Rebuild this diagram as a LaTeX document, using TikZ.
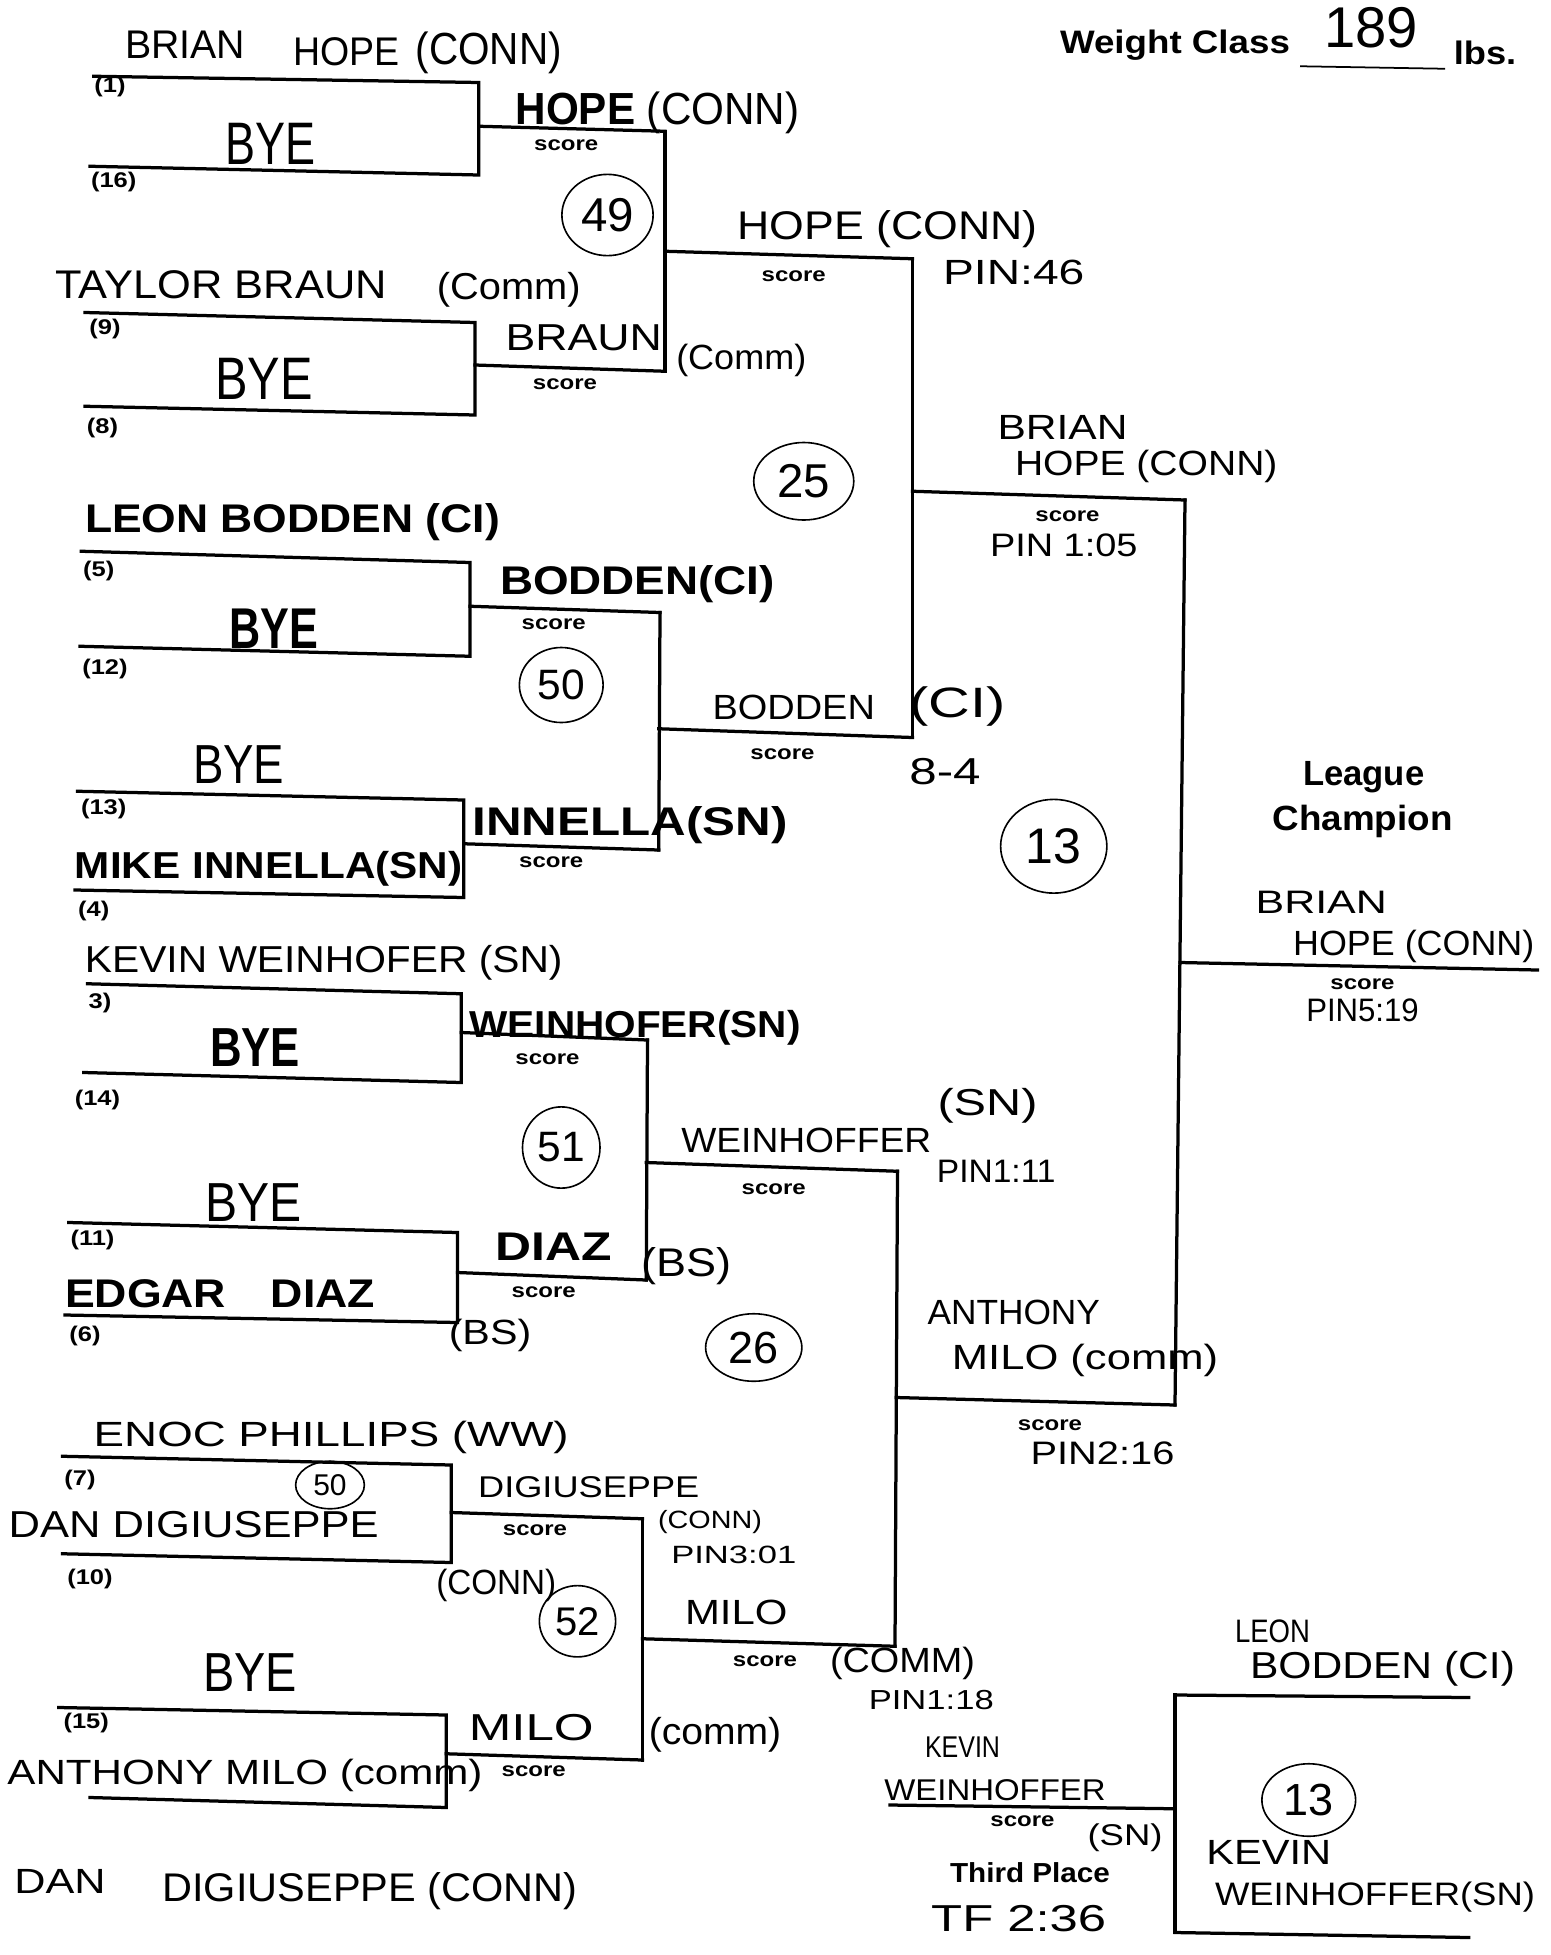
\documentclass[tikz,border=0pt]{standalone}
\usepackage{fontspec}
\usetikzlibrary{shapes.geometric}
\setmainfont{Liberation Sans}
\newfontfamily\hand{Liberation Sans}
\newfontfamily\prt[FakeStretch=1.2]{Liberation Sans}
\newcommand\fitw[2]{\resizebox{#1pt}{\height}{#2}}
\begin{document}
\begin{tikzpicture}[x=1pt,y=-1pt,
  br/.style={line width=2.6pt, line cap=rect},
  sc/.style={font=\prt\bfseries\fontsize{16}{16}\selectfont, inner sep=0},
  sd/.style={font=\prt\bfseries\fontsize{17}{17}\selectfont, inner sep=0},
  pl/.style={font=\bfseries\fontsize{#1}{#1}\selectfont, inner sep=0},
  hw/.style={font=\hand\fontsize{#1}{#1}\selectfont, inner sep=0},
  hw/.default=28,
  circ/.style={draw, ellipse, line width=1.3pt, inner sep=0pt, font=\hand\fontsize{#1}{#1}\selectfont}]
\fill[white] (0,0) rectangle (1240,1564);
\useasboundingbox (0,0) rectangle (1240,1564);

% ---------------- bracket coordinates ----------------
% A (1 vs 16)
\coordinate (a1) at (75,61);  \coordinate (a2) at (383,66);
\coordinate (a3) at (72,133); \coordinate (a4) at (383,140);
\coordinate (aw1) at (383,101); \coordinate (aw2) at (532,105);
% B (9 vs 8)
\coordinate (b1) at (68,250);  \coordinate (b2) at (380,258);
\coordinate (b3) at (68,325);  \coordinate (b4) at (380,332);
\coordinate (bw1) at (380,292); \coordinate (bw2) at (532,297);
% round 2 AB
\coordinate (ab1) at (532,201); \coordinate (ab2) at (730,207);
% C (5 vs 12)
\coordinate (c1) at (65,441);  \coordinate (c2) at (376,450);
\coordinate (c3) at (64,517);  \coordinate (c4) at (376,525);
\coordinate (cw1) at (376,485); \coordinate (cw2) at (528,490);
% D (13 vs 4)
\coordinate (d1) at (62,633);  \coordinate (d2) at (371,640);
\coordinate (d3) at (60,712);  \coordinate (d4) at (371,718);
\coordinate (dw1) at (371,675); \coordinate (dw2) at (527,680);
% round 2 CD
\coordinate (cd1) at (527,583); \coordinate (cd2) at (730,590);
% round 3 top
\coordinate (t1) at (730,393); \coordinate (t2) at (948,400);
% E (3 vs 14)
\coordinate (e1) at (70,787);  \coordinate (e2) at (369,795);
\coordinate (e3) at (67,858);  \coordinate (e4) at (369,866);
\coordinate (ew1) at (369,826); \coordinate (ew2) at (518,832);
% F (11 vs 6)
\coordinate (f1) at (55,978);  \coordinate (f2) at (366,986);
\coordinate (f3) at (52,1052); \coordinate (f4) at (366,1058);
\coordinate (fw1) at (366,1018); \coordinate (fw2) at (517,1024);
% round 2 EF
\coordinate (ef1) at (517,930); \coordinate (ef2) at (718,937);
% G (7 vs 10)
\coordinate (g1) at (50,1165); \coordinate (g2) at (361,1172);
\coordinate (g3) at (50,1243); \coordinate (g4) at (361,1250);
\coordinate (gw1) at (361,1210); \coordinate (gw2) at (514,1215);
% H (15 vs 2)
\coordinate (h1) at (47,1366); \coordinate (h2) at (357,1372);
\coordinate (h3) at (72,1438); \coordinate (h4) at (357,1446);
\coordinate (hw1) at (357,1403); \coordinate (hw2) at (514,1408);
% round 2 GH
\coordinate (gh1) at (514,1311); \coordinate (gh2) at (716,1317);
% round 3 bottom
\coordinate (u1) at (717,1118); \coordinate (u2) at (940,1124);
% final
\coordinate (ch1) at (944,770); \coordinate (ch2) at (1230,776);
% third place
\coordinate (tp1) at (712,1444); \coordinate (tp2) at (940,1447);
\coordinate (tp3) at (940,1356); \coordinate (tp4) at (1175,1358);
\coordinate (tp5) at (940,1546); \coordinate (tp6) at (1175,1550);

% ---------------- bracket lines ----------------
\draw[br] (a1)--(a2)--(a4)--(a3);
\draw[br] (aw1)--(aw2);
\draw[br] (b1)--(b2)--(b4)--(b3);
\draw[br] (bw1)--(bw2);
\draw[br] (aw2)--(bw2);
\draw[br] (ab1)--(ab2);
\draw[br] (c1)--(c2)--(c4)--(c3);
\draw[br] (cw1)--(cw2);
\draw[br] (d1)--(d2)--(d4)--(d3);
\draw[br] (dw1)--(dw2);
\draw[br] (cw2)--(dw2);
\draw[br] (cd1)--(cd2);
\draw[br] (ab2)--(cd2);
\draw[br] (t1)--(t2);
\draw[br] (e1)--(e2)--(e4)--(e3);
\draw[br] (ew1)--(ew2);
\draw[br] (f1)--(f2)--(f4)--(f3);
\draw[br] (fw1)--(fw2);
\draw[br] (ew2)--(fw2);
\draw[br] (ef1)--(ef2);
\draw[br] (g1)--(g2)--(g4)--(g3);
\draw[br] (gw1)--(gw2);
\draw[br] (h1)--(h2)--(h4)--(h3);
\draw[br] (hw1)--(hw2);
\draw[br] (gw2)--(hw2);
\draw[br] (gh1)--(gh2);
\draw[br] (ef2)--(gh2);
\draw[br] (u1)--(u2);
\draw[br] (t2)--(u2);
\draw[br] (ch1)--(ch2);
\draw[br] (tp1)--(tp2);
\draw[br] (tp3)--(tp5);
\draw[br] (tp3)--(tp4);
\draw[br] (tp5)--(tp6);

% ---------------- printed labels ----------------
\node[pl=26] (wc) at (940,36) {\fitw{184}{Weight Class}};
\coordinate (ul1) at (1040,53); \coordinate (ul2) at (1156,55);
\draw[line width=1.4pt] (ul1)--(ul2);
\node[pl=26] (lbs) at (1188,42) {\fitw{50}{lbs.}};
\node[hw=46] (wt) at (1097,22) {\fitw{75}{189}};
\node[pl=28] (lg1) at (1091,622) {\fitw{97}{League}};
\node[pl=28] (lg2) at (1090,657) {\fitw{144}{Champion}};
\node[pl=22] (thp) at (824,1498) {\fitw{128}{Third Place}};

\node[sd] (sd1) at (88,70) {(1)};
\node[sd] (sd16) at (91,146) {(16)};
\node[sd] (sd9) at (84,263) {(9)};
\node[sd] (sd8) at (82,342) {(8)};
\node[sd] (sd5) at (79,457) {(5)};
\node[sd] (sd12) at (84,535) {(12)};
\node[sd] (sd13) at (83,647) {(13)};
\node[sd] (sd4) at (75,729) {(4)};
\node[sd] (sd3) at (80,802) {3)};
\node[sd] (sd14) at (78,880) {(14)};
\node[sd] (sd11) at (74,992) {(11)};
\node[sd] (sd6) at (68,1069) {(6)};
\node[sd] (sd7) at (64,1184) {(7)};
\node[sd] (sd10) at (72,1263) {(10)};
\node[sd] (sd15) at (69,1378) {(15)};

\node[sc] (scA) at (453,116) {score};
\node[sc] (scB) at (452,307) {score};
\node[sc] (scAB) at (635,221) {score};
\node[sc] (scC) at (443,499) {score};
\node[sc] (scD) at (441,690) {score};
\node[sc] (scCD) at (626,603) {score};
\node[sc] (scT) at (854,413) {score};
\node[sc] (scE) at (438,847) {score};
\node[sc] (scF) at (435,1034) {score};
\node[sc] (scEF) at (619,951) {score};
\node[sc] (scG) at (428,1224) {score};
\node[sc] (scH) at (427,1417) {score};
\node[sc] (scGH) at (612,1329) {score};
\node[sc] (scU) at (840,1140) {score};
\node[sc] (scCh) at (1090,787) {score};
\node[sc] (scTP) at (818,1457) {score};

% ---------------- handwritten entries ----------------
\node[hw=32] (n1) at (148,36) {\fitw{96}{BRIAN}};
\node[hw=32] (n2) at (277,41) {\fitw{85}{HOPE}};
\node[hw=36] (n3) at (391,42) {\fitw{117}{(CONN)}};
\node[hw=48] (n4) at (216,115) {\fitw{72}{BYE}};
\node[hw=36] (n5) at (526,90) {\fitw{227}{{\bfseries HOPE} (CONN)}};
\node[circ=38, minimum width=73pt, minimum height=65pt] (m49) at (486,172) {49};
\node[hw=32] (n6) at (177,228) {\fitw{265}{TAYLOR BRAUN}};
\node[hw=30] (n7) at (407,232) {\fitw{115}{(Comm)}};
\node[hw=48] (n8) at (211,303) {\fitw{78}{BYE}};
\node[hw=30] (n9) at (467,270) {\fitw{125}{BRAUN}};
\node[hw=28] (n10) at (593,288) {\fitw{104}{(Comm)}};
\node[hw=32] (n11) at (710,183) {\fitw{240}{HOPE (CONN)}};
\node[hw=28] (n12) at (811,218) {\fitw{113}{PIN:46}};
\node[circ=38, minimum width=80pt, minimum height=62pt] (m25) at (643,385) {25};
\node[hw=28] (n13) at (850,342) {\fitw{104}{BRIAN}};
\node[hw=28] (n14) at (917,373) {\fitw{210}{HOPE (CONN)}};
\node[hw=26] (n15) at (851,436) {\fitw{118}{PIN 1:05}};
\node[hw=32] (n16) at (234,418) {\fitw{332}{\bfseries LEON BODDEN (CI)}};
\node[hw=46] (n17) at (219,503) {\fitw{71}{\bfseries BYE}};
\node[hw=32] (n18) at (510,467) {\fitw{220}{\bfseries BODDEN(CI)}};
\node[circ=34, minimum width=67pt, minimum height=60pt] (m50) at (449,548) {50};
\node[hw=28] (n19) at (635,566) {\fitw{130}{BODDEN}};
\node[hw=34] (n20) at (766,565) {\fitw{77}{(CI)}};
\node[hw=30] (n21) at (756,617) {\fitw{57}{8-4}};
\node[hw=44] (n22) at (191,612) {\fitw{73}{BYE}};
\node[hw=32] (n23) at (504,660) {\fitw{252}{\bfseries INNELLA(SN)}};
\node[hw=30] (n24) at (215,695) {\fitw{310}{\bfseries MIKE INNELLA(SN)}};
\node[circ=40, minimum width=85pt, minimum height=75pt] (m13) at (843,677) {13};
\node[hw=30] (n25) at (259,770) {\fitw{382}{KEVIN WEINHOFER (SN)}};
\node[hw=44] (n26) at (204,838) {\fitw{72}{\bfseries BYE}};
\node[hw=30] (n27) at (508,822) {\fitw{265}{\bfseries WEINHOFER(SN)}};
\node[circ=34, minimum width=62pt, minimum height=65pt] (m51) at (449,918) {51};
\node[hw=28] (n28) at (645,912) {\fitw{200}{WEINHOFFER}};
\node[hw=30] (n29) at (790,885) {\fitw{80}{(SN)}};
\node[hw=26] (n30) at (797,937) {\fitw{95}{PIN1:11}};
\node[hw=44] (n31) at (203,962) {\fitw{77}{BYE}};
\node[hw=32] (n32) at (443,997) {\fitw{93}{\bfseries DIAZ}};
\node[hw=32] (n33) at (549,1013) {\fitw{72}{(BS)}};
\node[hw=32] (n34) at (176,1035) {\fitw{248}{\bfseries EDGAR\quad DIAZ}};
\node[hw=28] (n35) at (392,1068) {\fitw{66}{(BS)}};
\node[circ=36, minimum width=77pt, minimum height=54pt] (m26) at (603,1078) {26};
\node[hw=28] (n36) at (811,1050) {\fitw{138}{ANTHONY}};
\node[hw=28] (n37) at (868,1088) {\fitw{213}{MILO (comm)}};
\node[hw=26] (n38) at (882,1163) {\fitw{115}{PIN2:16}};
\node[hw=28] (n39) at (265,1150) {\fitw{380}{ENOC PHILLIPS (WW)}};
\node[circ=24, minimum width=55pt, minimum height=38pt] (m50b) at (264,1188) {50};
\node[hw=30] (n40) at (155,1220) {\fitw{296}{DAN DIGIUSEPPE}};
\node[hw=24] (n41) at (471,1190) {\fitw{177}{DIGIUSEPPE}};
\node[hw=20] (n42) at (568,1218) {\fitw{83}{(CONN)}};
\node[hw=20] (n43) at (587,1244) {\fitw{100}{PIN3:01}};
\node[hw=28] (n44) at (397,1268) {\fitw{96}{(CONN)}};
\node[circ=32, minimum width=61pt, minimum height=57pt] (m52) at (462,1297) {52};
\node[hw=28] (n45) at (589,1290) {\fitw{82}{MILO}};
\node[hw=28] (n46) at (722,1331) {\fitw{116}{(COMM)}};
\node[hw=22] (n47) at (745,1360) {\fitw{100}{PIN1:18}};
\node[hw=44] (n48) at (200,1338) {\fitw{75}{BYE}};
\node[hw=30] (n49) at (425,1382) {\fitw{100}{MILO}};
\node[hw=30] (n50) at (572,1388) {\fitw{106}{(comm)}};
\node[hw=28] (n51) at (196,1420) {\fitw{380}{ANTHONY MILO (comm)}};
\node[hw=28] (n52) at (48,1505) {\fitw{73}{DAN}};
\node[hw=32] (n53) at (296,1513) {\fitw{332}{DIGIUSEPPE (CONN)}};
\node[hw=26] (n54) at (1057,722) {\fitw{105}{BRIAN}};
\node[hw=28] (n55) at (1131,757) {\fitw{193}{HOPE (CONN)}};
\node[hw=26] (n56) at (1090,808) {\fitw{90}{PIN5:19}};
\node[hw=26] (n57) at (1018,1305) {\fitw{60}{LEON}};
\node[hw=30] (n58) at (1106,1335) {\fitw{212}{BODDEN (CI)}};
\node[hw=24] (n59) at (770,1398) {\fitw{60}{KEVIN}};
\node[hw=24] (n60) at (796,1432) {\fitw{177}{WEINHOFFER}};
\node[hw=24] (n61) at (900,1470) {\fitw{60}{(SN)}};
\node[hw=30] (n62) at (815,1535) {\fitw{140}{TF 2:36}};
\node[circ=36, minimum width=75pt, minimum height=58pt] (m13b) at (1047,1440) {13};
\node[hw=28] (n63) at (1015,1482) {\fitw{100}{KEVIN}};
\node[hw=26] (n64) at (1100,1518) {\fitw{256}{WEINHOFFER(SN)}};
\end{tikzpicture}
\end{document}
